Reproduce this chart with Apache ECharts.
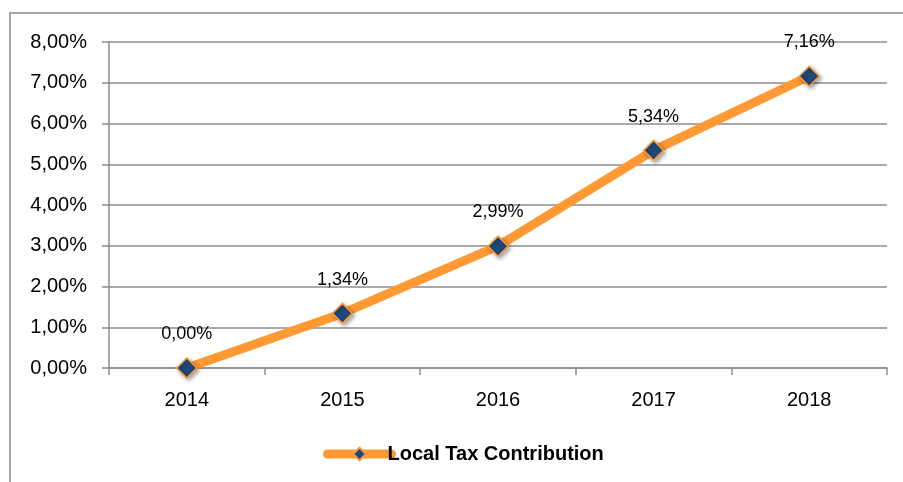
<!DOCTYPE html>
<html lang="en">
<head>
    <meta charset="UTF-8">
    <title>Local Tax Contribution</title>
    <script src="https://cdn.jsdelivr.net/npm/echarts@6/dist/echarts.min.js"></script>
    <style>
        html, body { margin: 0; padding: 0; background: #fff; }
    </style>
</head>
<body>
    <div id="main" style="width: 903px;height: 482px"></div>

    <script type="text/javascript">
        // values in percent
        var years = ['2014', '2015', '2016', '2017', '2018'];
        var taxShare = [0.00, 1.34, 2.99, 5.34, 7.16];
        var seriesName = 'Local Tax Contribution';

        function pct(v) {
            return v.toFixed(2).replace('.', ',') + '%';
        }

        var myChart = echarts.init(document.getElementById('main'));
        myChart.setOption({
            animation: false,
            textStyle: { fontFamily: 'Liberation Sans' },
            graphic: [{
                type: 'rect',
                shape: { x: 10, y: 13, width: 1000, height: 1000 },
                style: { fill: 'none', stroke: '#a6a6a6', lineWidth: 2 },
                silent: true
            }],
            grid: { left: 109, right: 16, top: 42, bottom: 114 },
            legend: {
                left: 318,
                top: 439,
                itemWidth: 64,
                itemHeight: 16,
                itemGap: 0,
                lineStyle: { width: 9, cap: 'round' },
                textStyle: { fontSize: 20, fontWeight: 'bold', color: '#000', padding: [0, 0, 0, -9] },
                data: [seriesName]
            },
            xAxis: {
                type: 'category',
                data: years,
                boundaryGap: true,
                axisLine: { lineStyle: { color: '#8c8c8c', width: 1.5 } },
                axisTick: { show: true, alignWithLabel: false, length: 7, lineStyle: { color: '#8c8c8c', width: 1.5 } },
                axisLabel: { fontSize: 20, color: '#000', margin: 22 }
            },
            yAxis: {
                type: 'value',
                min: 0,
                max: 8,
                interval: 1,
                axisLine: { show: true, lineStyle: { color: '#8c8c8c', width: 1.5 } },
                axisTick: { show: true, length: 7, lineStyle: { color: '#8c8c8c', width: 1.5 } },
                splitLine: { lineStyle: { color: '#8c8c8c', width: 1.5 } },
                axisLabel: { fontSize: 20, color: '#000', margin: 22, formatter: pct }
            },
            series: [{
                name: seriesName,
                type: 'line',
                data: taxShare,
                symbol: 'diamond',
                symbolSize: 20,
                lineStyle: { color: '#ff9933', width: 9 },
                itemStyle: {
                    color: '#1f497d',
                    borderColor: '#ff9933',
                    borderWidth: 1.5,
                    shadowBlur: 4,
                    shadowOffsetX: 2,
                    shadowOffsetY: 2,
                    shadowColor: 'rgba(0,0,0,0.35)'
                },
                label: {
                    show: true,
                    position: 'top',
                    distance: 14,
                    fontSize: 18,
                    color: '#000',
                    formatter: function (p) { return pct(p.value); }
                }
            }]
        });
    </script>
</body>
</html>
